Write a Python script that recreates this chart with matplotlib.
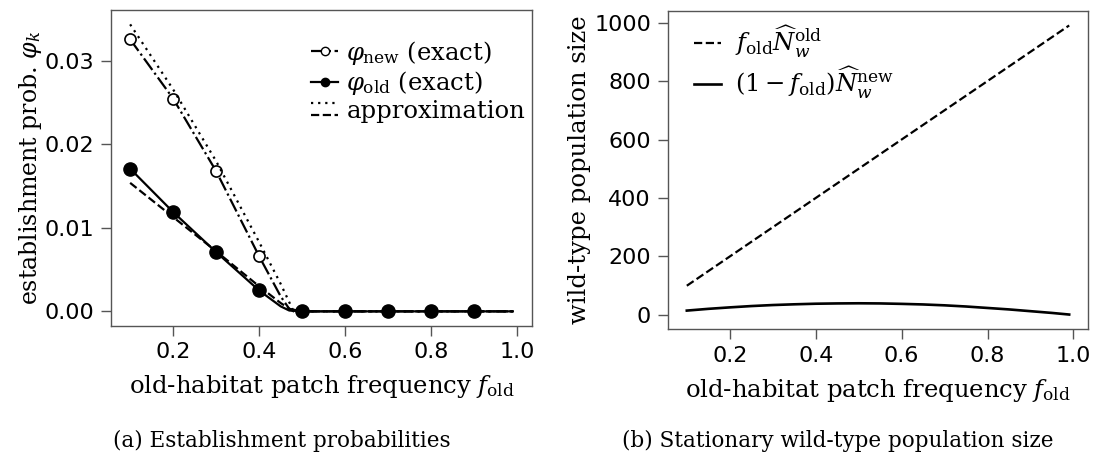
import matplotlib
matplotlib.use("Agg")
import matplotlib.pyplot as plt
from matplotlib.legend_handler import HandlerBase
from matplotlib.lines import Line2D

plt.rcParams['font.family'] = 'DejaVu Serif'
plt.rcParams['mathtext.fontset'] = 'dejavuserif'

# establishment probabilities against old-habitat patch frequency
f_exact = [0.1, 0.2, 0.3, 0.4, 0.45, 0.47, 0.5, 0.6, 0.7, 0.8, 0.9, 0.99]
phi_new_exact = [0.0326, 0.0255, 0.0168, 0.0066, 0.0018, 0.0003, 0.0, 0.0, 0.0, 0.0, 0.0, 0.0]
phi_old_exact = [0.0171, 0.0119, 0.0071, 0.0025, 0.0006, 0.0001, 0.0, 0.0, 0.0, 0.0, 0.0, 0.0]

f_approx = [0.1, 0.2, 0.3, 0.4, 0.45, 0.48, 0.5, 0.6, 0.7, 0.8, 0.9, 0.99]
phi_new_approx = [0.0344, 0.0266, 0.0180, 0.0083, 0.0033, 0.0, 0.0, 0.0, 0.0, 0.0, 0.0, 0.0]
phi_old_approx = [0.0154, 0.0113, 0.0072, 0.0030, 0.0010, 0.0, 0.0, 0.0, 0.0, 0.0, 0.0, 0.0]

# simulation points (markers)
f_marks = [0.1, 0.2, 0.3, 0.4, 0.5, 0.6, 0.7, 0.8, 0.9]
phi_new_marks = [0.0326, 0.0255, 0.0168, 0.0066, 0.0, 0.0, 0.0, 0.0, 0.0]
phi_old_marks = [0.0171, 0.0119, 0.0071, 0.0025, 0.0, 0.0, 0.0, 0.0, 0.0]

# stationary wild-type population sizes
f_pop = [0.1, 0.15, 0.2, 0.25, 0.3, 0.35, 0.4, 0.45, 0.5, 0.55, 0.6, 0.65,
         0.7, 0.75, 0.8, 0.85, 0.9, 0.95, 0.99]
n_old = [100, 150, 200, 250, 300, 350, 400, 450, 500, 550, 600, 650,
         700, 750, 800, 850, 900, 950, 990]
n_new = [15, 21, 26, 30.5, 34, 36.5, 38.5, 39.5, 40, 39.5, 38, 36,
         33, 29, 24, 19, 13, 7, 1.5]

DOTTED = (0, (1, 2.2))
LW = 1.6


class StackedLines(HandlerBase):
    # one legend entry showing two line styles stacked vertically
    def create_artists(self, legend, orig_handle, xdescent, ydescent,
                       width, height, fontsize, trans):
        out = []
        for style, frac in zip(orig_handle, (0.85, 0.15)):
            y = -ydescent + height * frac
            a = Line2D([-xdescent, -xdescent + width], [y, y],
                       color='black', linestyle=style, linewidth=LW)
            a.set_transform(trans)
            out.append(a)
        return out


fig = plt.figure(figsize=(10.95, 4.55), dpi=100)
W, H = 1095, 455
ax1 = fig.add_axes([111 / W, 1 - 325.7 / H, (532 - 111) / W, (325.7 - 10) / H])
ax2 = fig.add_axes([667.7 / W, 1 - 329 / H, (1088.3 - 667.7) / W, (329 - 11) / H])

spine_col = '#555555'
for ax in (ax1, ax2):
    for s in ax.spines.values():
        s.set_color(spine_col)
        s.set_linewidth(1.0)
    ax.tick_params(direction='out', length=7, width=1, color=spine_col,
                   labelsize=16, pad=5, labelfontfamily='DejaVu Sans')
    ax.set_xticks([0.2, 0.4, 0.6, 0.8, 1.0])

# (a) establishment probabilities
ax1.plot(f_exact, phi_new_exact, color='black', linestyle='-.', linewidth=LW)
ax1.plot(f_marks, phi_new_marks, linestyle='none', marker='o', markersize=8,
         markerfacecolor='white', markeredgecolor='black', markeredgewidth=1.2)
ax1.plot(f_exact, phi_old_exact, color='black', linestyle='-', linewidth=LW)
ax1.plot(f_marks, phi_old_marks, linestyle='none', marker='o', markersize=9.5,
         color='black')
ax1.plot(f_approx, phi_new_approx, color='black', linestyle=DOTTED, linewidth=LW)
ax1.plot(f_approx, phi_old_approx, color='black', linestyle='--', linewidth=LW)
ax1.set_yticks([0.0, 0.01, 0.02, 0.03])
ax1.set_yticklabels(['0.00', '0.01', '0.02', '0.03'])
ax1.set_xlabel(r'old-habitat patch frequency $f_{\rm old}$', fontsize=17.5, labelpad=8)
ax1.set_ylabel(r'establishment prob. $\varphi_k$', fontsize=17, labelpad=0.5)

h_new = Line2D([], [], color='black', linestyle='-.', linewidth=LW, marker='o',
               markersize=6, markerfacecolor='white', markeredgecolor='black')
h_old = Line2D([], [], color='black', linestyle='-', linewidth=LW, marker='o',
               markersize=6)
h_apx = (DOTTED, '--')
ax1.legend([h_new, h_old, h_apx],
           [r'$\varphi_{\rm new}$ (exact)', r'$\varphi_{\rm old}$ (exact)', 'approximation'],
           handler_map={tuple: StackedLines()}, loc='upper right',
           bbox_to_anchor=(1.007, 0.94), frameon=False,
           fontsize=17.5, handlelength=1.1, handletextpad=0.35, labelspacing=0.1,
           borderaxespad=0)

# (b) stationary wild-type population size
ax2.plot(f_pop, n_old, color='black', linestyle='--', linewidth=LW,
         label=r'$f_{\rm old}\widehat{N}_w^{\rm old}$')
ax2.plot(f_pop, n_new, color='black', linestyle='-', linewidth=1.9,
         label=r'$(1-f_{\rm old})\widehat{N}_w^{\rm new}$')
ax2.set_yticks([0, 200, 400, 600, 800, 1000])
ax2.set_xlabel(r'old-habitat patch frequency $f_{\rm old}$', fontsize=17.5, labelpad=8)
ax2.set_ylabel('wild-type population size', fontsize=17.5, labelpad=2)
ax2.legend(loc='upper left', bbox_to_anchor=(0.039, 0.99), frameon=False,
           fontsize=17.5, handlelength=1.1, handletextpad=0.6, labelspacing=0.2,
           borderaxespad=0)

fig.text(282 / W, 1 - 441 / H, '(a) Establishment probabilities',
         ha='center', va='center', fontsize=15.5)
fig.text(838 / W, 1 - 441 / H, '(b) Stationary wild-type population size',
         ha='center', va='center', fontsize=15.5)

fig.savefig('out.png', dpi=100)
